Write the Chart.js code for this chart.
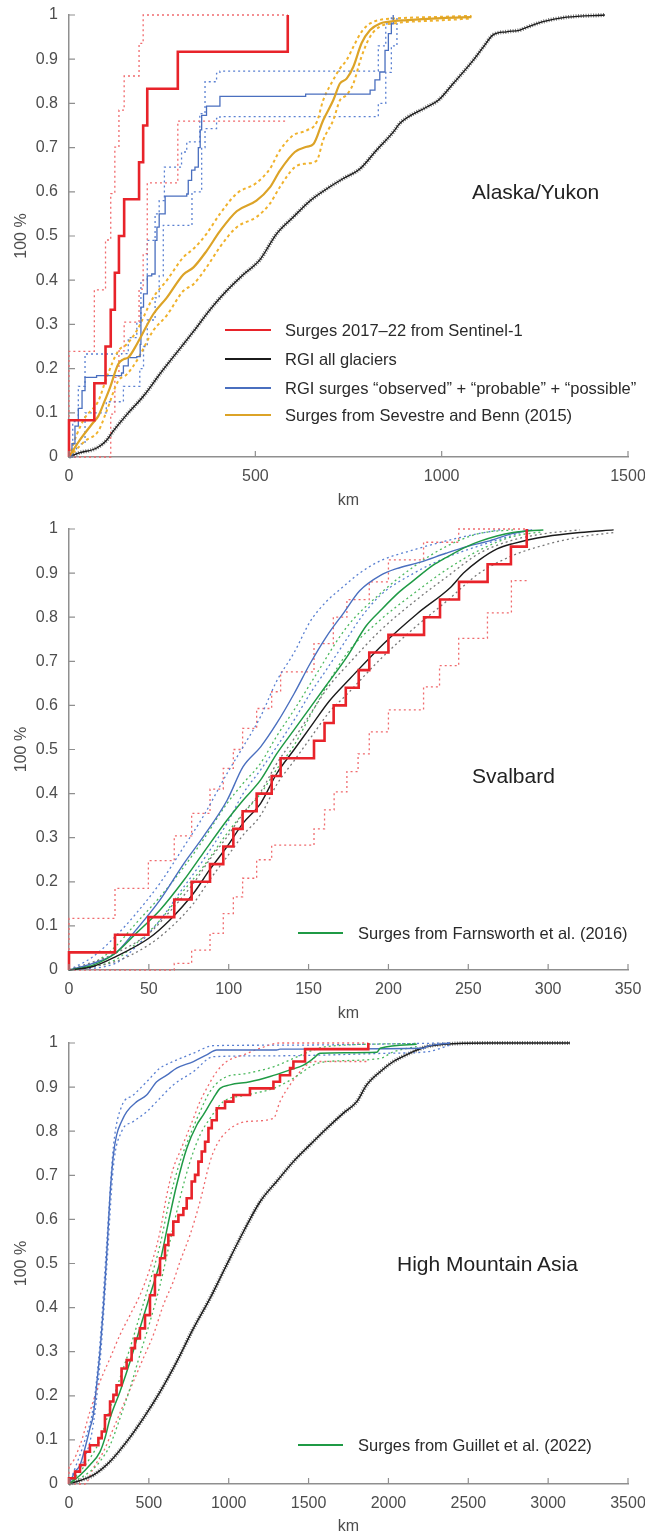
<!DOCTYPE html>
<html>
<head>
<meta charset="utf-8">
<script src="https://cdn.jsdelivr.net/npm/chart.js@4.4.1/dist/chart.umd.min.js"></script>
<style>
  body { margin: 0; background: #fff; }
  #page { position: relative; width: 645px; height: 1539px; }
  .panel { position: absolute; left: 0; width: 645px; height: 513px; }
  .region { position: absolute; font-family: "Liberation Sans", Arial, sans-serif; font-size: 21px; line-height: 21px; color: #222; white-space: nowrap; }
  .leg { position: absolute; height: 20px; line-height: 20px; display: flex; align-items: center; font-family: "Liberation Sans", Arial, sans-serif; font-size: 16.5px; color: #2a2a2a; white-space: nowrap; }
  .sw { display: inline-block; width: 46px; height: 0; border-top-style: solid; margin-right: 14px; }
</style>
</head>
<body>
<div id="page">
  <div class="panel" style="top:0">
    <canvas id="c1" width="645" height="513"></canvas>
    <div class="region" style="left:472px;top:181px">Alaska/Yukon</div>
    <div class="leg" style="left:225px;top:320px"><span class="sw" style="border-top-width:2.5px;border-color:#e8232a"></span>Surges 2017–22 from Sentinel-1</div>
    <div class="leg" style="left:225px;top:349px"><span class="sw" style="border-top-width:2.2px;border-color:#1b1b1b"></span>RGI all glaciers</div>
    <div class="leg" style="left:225px;top:378px"><span class="sw" style="border-top-width:2px;border-color:#4a6fbf"></span>RGI surges “observed” + “probable” + “possible”</div>
    <div class="leg" style="left:225px;top:405px"><span class="sw" style="border-top-width:2.5px;border-color:#dca327"></span>Surges from Sevestre and Benn (2015)</div>
  </div>
  <div class="panel" style="top:513px">
    <canvas id="c2" width="645" height="513"></canvas>
    <div class="region" style="left:472px;top:252px">Svalbard</div>
    <div class="leg" style="left:298px;top:410px"><span class="sw" style="width:45px;margin-right:15px;border-top-width:2.2px;border-color:#1f9a45"></span>Surges from Farnsworth et al. (2016)</div>
  </div>
  <div class="panel" style="top:1026px">
    <canvas id="c3" width="645" height="513"></canvas>
    <div class="region" style="left:397px;top:227px">High Mountain Asia</div>
    <div class="leg" style="left:298px;top:409px"><span class="sw" style="width:45px;margin-right:15px;border-top-width:2.2px;border-color:#1f9a45"></span>Surges from Guillet et al. (2022)</div>
  </div>
</div>
<script>
// ---------- Alaska/Yukon ----------
const akRedX = [0, 0, 68, 98, 112, 123, 134, 148, 188, 199, 210, 292, 587];
const akRedY = [0, 0.083, 0.167, 0.25, 0.333, 0.417, 0.5, 0.583, 0.667, 0.75, 0.833, 0.917, 1];
const akRedHiX = [0, 0, 68, 98, 112, 123, 134, 148, 188, 199, 587];
const akRedHiY = [0, 0.239, 0.378, 0.491, 0.596, 0.701, 0.785, 0.862, 0.936, 1, 1];
const akRedLoX = [0, 112, 123, 134, 148, 188, 199, 210, 292, 587];
const akRedLoY = [0, 0.097, 0.18, 0.24, 0.305, 0.38, 0.46, 0.62, 0.76, 0.76];

const akBlueX = [0, 8, 16, 25, 35, 43, 74, 141, 146, 159, 182, 191, 193, 200, 210, 222, 231, 236, 242, 258, 316, 320, 329, 338, 347, 352, 356, 369, 405, 635, 808, 821, 834, 848, 857, 865, 870];
const akBlueY = [0, 0.03, 0.07, 0.11, 0.15, 0.18, 0.184, 0.19, 0.206, 0.225, 0.227, 0.255, 0.339, 0.369, 0.41, 0.414, 0.49, 0.52, 0.55, 0.59, 0.595, 0.626, 0.649, 0.656, 0.70, 0.74, 0.773, 0.794, 0.816, 0.821, 0.83, 0.853, 0.871, 0.92, 0.958, 0.98, 1];
const akBlueHiX = [0, 10, 25, 43, 141, 159, 182, 193, 210, 231, 242, 256, 289, 302, 316, 351, 365, 396, 405, 812, 830, 850, 865];
const akBlueHiY = [0, 0.08, 0.16, 0.233, 0.234, 0.27, 0.305, 0.4, 0.49, 0.55, 0.58, 0.656, 0.656, 0.69, 0.713, 0.777, 0.849, 0.868, 0.873, 0.873, 0.93, 0.98, 1];
const akBlueLoX = [0, 20, 43, 100, 146, 190, 200, 210, 231, 242, 253, 311, 330, 356, 365, 396, 405, 812, 830, 850, 865, 880];
const akBlueLoY = [0, 0.03, 0.1, 0.125, 0.16, 0.2, 0.25, 0.31, 0.36, 0.41, 0.524, 0.524, 0.6, 0.70, 0.743, 0.766, 0.77, 0.77, 0.8, 0.87, 0.93, 1];

const akGoldX = [0, 27, 65, 79, 92, 110, 132, 146, 159, 182, 226, 262, 307, 334, 369, 405, 450, 503, 539, 566, 606, 638, 656, 682, 709, 727, 745, 763, 785, 808, 835, 861, 900, 1000, 1080];
const akGoldY = [0, 0.036, 0.078, 0.093, 0.119, 0.157, 0.21, 0.221, 0.225, 0.255, 0.323, 0.36, 0.413, 0.429, 0.466, 0.511, 0.556, 0.58, 0.61, 0.648, 0.69, 0.702, 0.708, 0.762, 0.807, 0.845, 0.856, 0.883, 0.936, 0.966, 0.981, 0.985, 0.988, 0.993, 0.995];
const akGoldHiX = [0, 21, 43, 79, 101, 132, 155, 182, 226, 262, 307, 334, 369, 405, 450, 503, 539, 566, 602, 638, 665, 682, 709, 727, 745, 763, 785, 808, 835, 870, 1000, 1080];
const akGoldHiY = [0, 0.051, 0.089, 0.127, 0.18, 0.24, 0.255, 0.286, 0.361, 0.399, 0.452, 0.471, 0.505, 0.55, 0.596, 0.62, 0.652, 0.694, 0.728, 0.739, 0.758, 0.807, 0.853, 0.879, 0.898, 0.928, 0.962, 0.981, 0.989, 0.992, 0.996, 0.998];
const akGoldLoX = [0, 43, 79, 101, 132, 155, 182, 226, 262, 307, 334, 369, 405, 450, 503, 539, 566, 606, 638, 665, 682, 709, 727, 745, 763, 785, 808, 835, 870, 1000, 1080];
const akGoldLoY = [0, 0.036, 0.059, 0.104, 0.172, 0.187, 0.218, 0.286, 0.32, 0.376, 0.391, 0.429, 0.475, 0.52, 0.543, 0.573, 0.611, 0.656, 0.664, 0.671, 0.717, 0.762, 0.807, 0.819, 0.845, 0.906, 0.951, 0.974, 0.981, 0.988, 0.992];

const akBlackX = [0, 30, 65, 83, 101, 119, 155, 200, 244, 289, 334, 378, 423, 468, 512, 557, 602, 647, 692, 736, 781, 825, 870, 888, 960, 991, 1031, 1085, 1112, 1138, 1174, 1210, 1228, 1272, 1335, 1438];
const akBlackY = [0, 0.01, 0.017, 0.025, 0.038, 0.059, 0.096, 0.138, 0.188, 0.236, 0.284, 0.333, 0.376, 0.413, 0.446, 0.505, 0.543, 0.58, 0.607, 0.63, 0.652, 0.694, 0.735, 0.755, 0.792, 0.807, 0.845, 0.898, 0.928, 0.955, 0.962, 0.966, 0.972, 0.985, 0.995, 1];

// ---------- Svalbard ----------
const svRedX = [0, 0, 28.8, 49.7, 65.9, 76.8, 88.3, 96.6, 102.9, 108.7, 117.5, 126.9, 132.5, 153.4, 160, 165.7, 173.3, 181.4, 188, 200, 222.3, 232.3, 244.2, 262.1, 276.7, 286.6];
const svRedY = [0, 0.04, 0.08, 0.12, 0.16, 0.2, 0.24, 0.28, 0.32, 0.36, 0.4, 0.44, 0.48, 0.52, 0.56, 0.6, 0.64, 0.68, 0.72, 0.76, 0.8, 0.84, 0.88, 0.92, 0.96, 1];
const svRedHiX = [0, 0, 28.8, 49.7, 65.9, 76.8, 88.3, 96.6, 102.9, 108.7, 117.5, 126.9, 132.5, 141.5, 153.4, 165.5, 174, 188, 200, 222, 244, 287];
const svRedHiY = [0, 0.117, 0.185, 0.248, 0.304, 0.355, 0.41, 0.457, 0.5, 0.548, 0.593, 0.631, 0.676, 0.676, 0.74, 0.8, 0.84, 0.88, 0.93, 0.97, 1, 1];
const svRedLoX = [0, 65.9, 76.8, 88.3, 96.6, 102.9, 108.7, 117.5, 126.9, 132.5, 153.4, 160, 166, 174, 181, 188, 200, 222, 232, 244, 262, 277, 287];
const svRedLoY = [0, 0.015, 0.045, 0.083, 0.128, 0.166, 0.208, 0.25, 0.283, 0.283, 0.32, 0.363, 0.404, 0.45, 0.49, 0.54, 0.59, 0.642, 0.69, 0.752, 0.81, 0.883, 0.883];

const svBlueX = [0, 15, 29, 42, 57, 72, 84, 99, 109, 120, 130, 141, 151, 161, 172, 182, 195, 205, 220, 236, 249, 262, 278, 290];
const svBlueY = [0, 0.015, 0.038, 0.091, 0.159, 0.242, 0.302, 0.385, 0.461, 0.506, 0.559, 0.627, 0.695, 0.755, 0.81, 0.86, 0.895, 0.91, 0.925, 0.945, 0.96, 0.972, 0.99, 0.998];
const svBlueHiX = [0, 15, 29, 42, 57, 72, 84, 99, 109, 120, 130, 141, 151, 161, 172, 182, 195, 216, 236, 257, 270];
const svBlueHiY = [0, 0.03, 0.076, 0.128, 0.197, 0.28, 0.348, 0.446, 0.506, 0.575, 0.655, 0.72, 0.79, 0.835, 0.87, 0.9, 0.928, 0.953, 0.973, 0.99, 0.998];
const svBlueLoX = [0, 29, 42, 57, 72, 84, 99, 109, 120, 130, 141, 151, 161, 172, 183, 195, 216, 236, 257, 278, 288];
const svBlueLoY = [0, 0.015, 0.053, 0.113, 0.189, 0.249, 0.333, 0.40, 0.454, 0.506, 0.567, 0.627, 0.68, 0.74, 0.8, 0.85, 0.9, 0.935, 0.962, 0.986, 0.998];

const svGreenX = [0, 15, 29, 42, 57, 72, 84, 99, 109, 120, 130, 141, 151, 161, 174, 186, 195, 207, 216, 228, 236, 249, 257, 278, 297];
const svGreenY = [0, 0.011, 0.038, 0.083, 0.136, 0.204, 0.265, 0.34, 0.385, 0.431, 0.49, 0.545, 0.595, 0.645, 0.71, 0.78, 0.815, 0.858, 0.884, 0.918, 0.935, 0.96, 0.972, 0.992, 0.998];
const svGreenHiX = [0, 15, 29, 42, 57, 72, 84, 99, 109, 120, 130, 141, 153, 174, 195, 216, 236, 257, 278];
const svGreenHiY = [0, 0.015, 0.053, 0.106, 0.166, 0.234, 0.295, 0.378, 0.423, 0.469, 0.53, 0.59, 0.66, 0.778, 0.854, 0.915, 0.96, 0.99, 0.998];
const svGreenLoX = [0, 29, 42, 57, 72, 84, 99, 109, 120, 130, 141, 153, 174, 195, 216, 236, 257, 278, 297];
const svGreenLoY = [0, 0.023, 0.06, 0.113, 0.181, 0.234, 0.31, 0.355, 0.40, 0.455, 0.51, 0.59, 0.718, 0.794, 0.854, 0.907, 0.952, 0.983, 0.994];

const svBlackX = [0, 15, 29, 50, 63, 78, 88, 99, 109, 120, 130, 141, 151, 163, 176, 197, 218, 239, 247, 257, 268, 278, 299, 320, 341];
const svBlackY = [0, 0.008, 0.03, 0.072, 0.113, 0.174, 0.227, 0.28, 0.333, 0.378, 0.445, 0.5, 0.55, 0.61, 0.661, 0.74, 0.808, 0.868, 0.9, 0.93, 0.955, 0.967, 0.983, 0.992, 0.998];
const svBlackHiX = [0, 29, 50, 63, 78, 88, 99, 109, 120, 130, 141, 151, 163, 174, 195, 216, 236, 257, 278, 299, 320];
const svBlackHiY = [0, 0.038, 0.083, 0.132, 0.197, 0.25, 0.302, 0.355, 0.404, 0.468, 0.525, 0.58, 0.645, 0.69, 0.77, 0.835, 0.89, 0.945, 0.975, 0.99, 0.998];
const svBlackLoX = [0, 29, 50, 63, 78, 88, 99, 109, 120, 130, 141, 151, 163, 174, 195, 216, 236, 257, 278, 299, 320, 341];
const svBlackLoY = [0, 0.019, 0.057, 0.094, 0.151, 0.204, 0.257, 0.306, 0.351, 0.42, 0.475, 0.525, 0.585, 0.625, 0.705, 0.775, 0.835, 0.9, 0.94, 0.965, 0.982, 0.992];

// ---------- High Mountain Asia ----------
const hmRedX = [0, 0, 38, 69, 100, 131, 184, 205, 225, 257, 278, 298, 329, 361, 392, 413, 444, 476, 507, 538, 570, 601, 622, 653, 685, 716, 737, 768, 789, 810, 831, 852, 873, 894, 925, 977, 1029, 1133, 1280, 1321, 1384, 1405, 1478, 1874];
const hmRedY = [0, 0.013, 0.028, 0.043, 0.073, 0.088, 0.104, 0.119, 0.156, 0.187, 0.202, 0.224, 0.262, 0.281, 0.308, 0.33, 0.353, 0.383, 0.428, 0.474, 0.512, 0.542, 0.565, 0.595, 0.61, 0.625, 0.648, 0.686, 0.701, 0.731, 0.754, 0.776, 0.807, 0.825, 0.852, 0.867, 0.882, 0.897, 0.912, 0.927, 0.943, 0.958, 0.986, 1];
const hmRedHiX = [0, 0, 69, 131, 194, 257, 319, 382, 444, 507, 570, 612, 653, 695, 737, 779, 820, 862, 925, 987, 1092, 1196, 1321, 1874];
const hmRedHiY = [0, 0.043, 0.088, 0.164, 0.232, 0.285, 0.338, 0.383, 0.428, 0.489, 0.572, 0.655, 0.716, 0.754, 0.791, 0.829, 0.867, 0.897, 0.935, 0.958, 0.973, 0.988, 1, 1];
const hmRedLoX = [0, 100, 152, 215, 278, 340, 403, 465, 528, 591, 653, 695, 758, 820, 883, 925, 987, 1112, 1280, 1321, 1384, 1468, 1530, 1874];
const hmRedLoY = [0, 0, 0.036, 0.073, 0.126, 0.179, 0.232, 0.285, 0.338, 0.406, 0.459, 0.504, 0.565, 0.64, 0.731, 0.769, 0.799, 0.822, 0.829, 0.867, 0.905, 0.943, 0.958, 0.958];

const hmBlueX = [0, 38, 69, 100, 131, 152, 173, 194, 215, 236, 257, 278, 298, 329, 361, 424, 486, 549, 612, 674, 779, 862, 925, 1300, 1321, 2219, 2240, 2386];
const hmBlueY = [0, 0.028, 0.043, 0.081, 0.126, 0.156, 0.224, 0.30, 0.398, 0.519, 0.655, 0.746, 0.791, 0.822, 0.844, 0.867, 0.882, 0.912, 0.927, 0.943, 0.958, 0.973, 0.984, 0.984, 0.986, 0.988, 0.992, 1];
const hmBlueHiX = [0, 38, 100, 152, 194, 236, 278, 329, 403, 486, 570, 653, 779, 904, 1300, 2386];
const hmBlueHiY = [0, 0.036, 0.1, 0.175, 0.32, 0.545, 0.765, 0.856, 0.882, 0.912, 0.943, 0.958, 0.977, 0.994, 0.995, 1];
const hmBlueLoX = [0, 100, 152, 194, 236, 278, 329, 403, 486, 570, 653, 779, 904, 1300, 2031, 2240, 2386];
const hmBlueLoY = [0, 0.06, 0.135, 0.275, 0.49, 0.72, 0.799, 0.822, 0.844, 0.875, 0.905, 0.935, 0.969, 0.971, 0.977, 0.98, 0.995];

const hmGreenX = [0, 69, 131, 194, 225, 257, 319, 382, 444, 507, 570, 632, 674, 737, 800, 841, 904, 946, 1008, 1133, 1259, 1384, 1468, 1530, 1572, 1927, 1948, 2177];
const hmGreenY = [0, 0.02, 0.043, 0.073, 0.104, 0.149, 0.209, 0.277, 0.353, 0.428, 0.504, 0.61, 0.678, 0.761, 0.814, 0.837, 0.875, 0.897, 0.905, 0.912, 0.924, 0.939, 0.95, 0.965, 0.977, 0.979, 0.988, 0.997];
const hmGreenHiX = [0, 69, 131, 194, 257, 319, 382, 444, 507, 570, 632, 695, 758, 820, 883, 966, 1112, 1280, 1405, 1530, 1613, 2177];
const hmGreenHiY = [0, 0.028, 0.058, 0.1, 0.172, 0.24, 0.308, 0.383, 0.459, 0.542, 0.648, 0.731, 0.791, 0.844, 0.89, 0.92, 0.931, 0.946, 0.965, 0.984, 0.992, 0.999];
const hmGreenLoX = [0, 131, 194, 257, 319, 382, 444, 507, 570, 632, 695, 758, 820, 883, 966, 1112, 1280, 1405, 1530, 1613, 1948, 2031, 2177];
const hmGreenLoY = [0, 0.028, 0.051, 0.088, 0.149, 0.217, 0.293, 0.368, 0.451, 0.55, 0.648, 0.731, 0.791, 0.829, 0.867, 0.882, 0.897, 0.92, 0.95, 0.958, 0.965, 0.98, 0.992];

const hmBlackX = [0, 69, 152, 257, 361, 465, 570, 674, 779, 883, 987, 1092, 1196, 1300, 1405, 1509, 1613, 1718, 1802, 1864, 1948, 2031, 2135, 2240, 2344, 2636, 3137];
const hmBlackY = [0, 0.008, 0.02, 0.051, 0.096, 0.149, 0.209, 0.277, 0.353, 0.421, 0.497, 0.572, 0.64, 0.686, 0.731, 0.769, 0.806, 0.841, 0.867, 0.905, 0.935, 0.958, 0.977, 0.992, 0.997, 1, 1];

// ---------- styles ----------
const FONT = "'Liberation Sans', Arial, sans-serif";
const AXIS = '#8f8f8f';
const TICK = '#4d4d4d';
const RED = '#e8232a', RED_LT = '#f06a6d';
const BLUE = '#4a6fbf', BLUE_LT = '#5a80d2';
const GOLD = '#dca327', GOLD_LT = '#f0b22c';
const BLACK = '#1b1b1b', GREY = '#777777';
const GREEN = '#1f9a45', GREEN_LT = '#4cb95e';
const DOT = [2, 3];

function series(xs, ys, o) {
    return {
        data: xs.map((x, i) => ({ x: x, y: ys[i] })),
        borderColor: o.color,
        borderWidth: o.width || 1.3,
        borderDash: o.dash || [],
        borderCapStyle: 'butt',
        stepped: o.step ? 'before' : false,
        cubicInterpolationMode: o.step ? 'default' : 'monotone',
        order: o.order || 0,
        pointRadius: 0,
        tension: 0,
        fill: false,
        clip: 6
    };
}

// MATLAB-style ticks pointing into the plot
const inTicks = {
    id: 'inTicks',
    afterDraw(chart) {
        const { ctx, chartArea: a, scales: { x, y } } = chart;
        ctx.save();
        ctx.strokeStyle = AXIS;
        ctx.lineWidth = 1.2;
        ctx.beginPath();
        x.ticks.forEach(t => {
            const px = x.getPixelForValue(t.value);
            ctx.moveTo(px, a.bottom);
            ctx.lineTo(px, a.bottom - 6);
        });
        y.ticks.forEach(t => {
            const py = y.getPixelForValue(t.value);
            ctx.moveTo(a.left, py);
            ctx.lineTo(a.left + 6, py);
        });
        ctx.stroke();
        ctx.restore();
    }
};

function makeChart(id, datasets, xMax, xStep, padTop, xHeight) {
    return new Chart(document.getElementById(id), {
        type: 'line',
        data: { datasets: datasets },
        options: {
            responsive: false,
            animation: false,
            events: [],
            layout: { padding: { top: padTop, right: 17, left: 0, bottom: 0 } },
            plugins: { legend: { display: false }, tooltip: { enabled: false } },
            scales: {
                x: {
                    type: 'linear', min: 0, max: xMax,
                    grid: { display: false, drawTicks: false },
                    border: { color: AXIS, width: 1.5 },
                    ticks: {
                        stepSize: xStep, padding: 10, color: TICK, maxRotation: 0, autoSkip: false,
                        font: { family: FONT, size: 16 },
                        callback: v => String(v)
                    },
                    title: { display: true, text: 'km', color: TICK, font: { family: FONT, size: 16 }, padding: { top: 0, bottom: 3 } },
                    afterFit: s => { s.height = xHeight; s.paddingLeft = 0; s.paddingRight = 0; }
                },
                y: {
                    type: 'linear', min: 0, max: 1,
                    grid: { display: false, drawTicks: false },
                    border: { color: AXIS, width: 1.5 },
                    ticks: {
                        stepSize: 0.1, padding: 11, color: TICK,
                        font: { family: FONT, size: 16 },
                        callback: v => String(Math.round(v * 10) / 10)
                    },
                    title: { display: true, text: '100 %', color: TICK, font: { family: FONT, size: 16 }, padding: { top: 12, bottom: 0 } },
                    afterFit: s => { s.width = 69; s.paddingTop = 0; s.paddingBottom = 0; }
                }
            }
        },
        plugins: [inTicks]
    });
}

document.addEventListener('DOMContentLoaded', () => {
    makeChart('c1', [
        series(akRedX, akRedY, { color: RED, width: 2.6, step: true, order: 0 }),
        series(akGoldX, akGoldY, { color: GOLD, width: 2.2, order: 1 }),
        series(akBlueX, akBlueY, { color: BLUE, width: 1.3, step: true, order: 2 }),
        series(akBlackX, akBlackY, { color: BLACK, width: 1.3, order: 3 }),
        series(akGoldHiX, akGoldHiY, { color: GOLD_LT, width: 2, dash: [3, 3], order: 4 }),
        series(akGoldLoX, akGoldLoY, { color: GOLD_LT, width: 2, dash: [3, 3], order: 4 }),
        series(akRedHiX, akRedHiY, { color: RED_LT, width: 1.3, dash: DOT, step: true, order: 5 }),
        series(akRedLoX, akRedLoY, { color: RED_LT, width: 1.3, dash: DOT, step: true, order: 5 }),
        series(akBlueHiX, akBlueHiY, { color: BLUE_LT, width: 1.3, dash: DOT, step: true, order: 6 }),
        series(akBlueLoX, akBlueLoY, { color: BLUE_LT, width: 1.3, dash: DOT, step: true, order: 6 }),
        series(akBlackX, akBlackY, { color: GREY, width: 4, dash: [1, 1.5], order: 8 })
    ], 1500, 500, 15, 56);

    makeChart('c2', [
        series(svRedX, svRedY, { color: RED, width: 2.6, step: true, order: 0 }),
        series(svBlackX, svBlackY, { color: BLACK, width: 1.4, order: 1 }),
        series(svGreenX, svGreenY, { color: GREEN, width: 1.5, order: 2 }),
        series(svBlueX, svBlueY, { color: BLUE, width: 1.4, order: 3 }),
        series(svBlackHiX, svBlackHiY, { color: GREY, width: 1.3, dash: DOT, order: 5 }),
        series(svBlackLoX, svBlackLoY, { color: GREY, width: 1.3, dash: DOT, order: 5 }),
        series(svGreenHiX, svGreenHiY, { color: GREEN_LT, width: 1.3, dash: DOT, order: 5 }),
        series(svGreenLoX, svGreenLoY, { color: GREEN_LT, width: 1.3, dash: DOT, order: 5 }),
        series(svBlueHiX, svBlueHiY, { color: BLUE_LT, width: 1.3, dash: DOT, order: 6 }),
        series(svBlueLoX, svBlueLoY, { color: BLUE_LT, width: 1.3, dash: DOT, order: 6 }),
        series(svRedHiX, svRedHiY, { color: RED_LT, width: 1.3, dash: DOT, step: true, order: 6 }),
        series(svRedLoX, svRedLoY, { color: RED_LT, width: 1.3, dash: DOT, step: true, order: 6 })
    ], 350, 50, 16, 56);

    makeChart('c3', [
        series(hmRedX, hmRedY, { color: RED, width: 2.6, step: true, order: 0 }),
        series(hmGreenX, hmGreenY, { color: GREEN, width: 1.5, order: 1 }),
        series(hmBlueX, hmBlueY, { color: BLUE, width: 1.4, order: 2 }),
        series(hmBlackX, hmBlackY, { color: BLACK, width: 1.4, order: 3 }),
        series(hmGreenHiX, hmGreenHiY, { color: GREEN_LT, width: 1.3, dash: DOT, order: 5 }),
        series(hmGreenLoX, hmGreenLoY, { color: GREEN_LT, width: 1.3, dash: DOT, order: 5 }),
        series(hmRedHiX, hmRedHiY, { color: RED_LT, width: 1.3, dash: DOT, order: 6 }),
        series(hmRedLoX, hmRedLoY, { color: RED_LT, width: 1.3, dash: DOT, order: 6 }),
        series(hmBlueHiX, hmBlueHiY, { color: BLUE_LT, width: 1.3, dash: DOT, order: 6 }),
        series(hmBlueLoX, hmBlueLoY, { color: BLUE_LT, width: 1.3, dash: DOT, order: 6 }),
        series(hmBlackX, hmBlackY, { color: GREY, width: 4, dash: [1, 1.5], order: 8 })
    ], 3500, 500, 17, 55);
});
</script>
</body>
</html>
